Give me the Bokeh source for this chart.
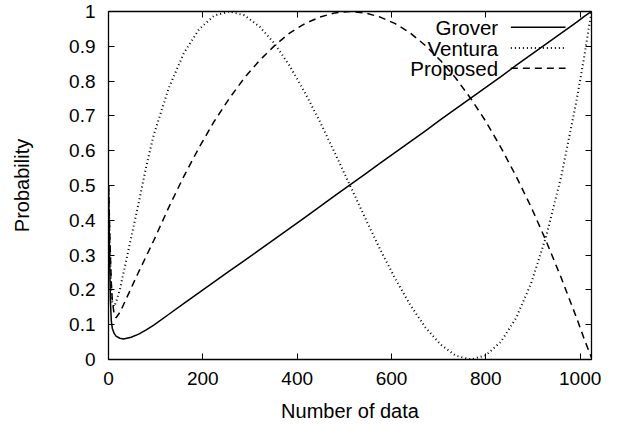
from bokeh.plotting import figure
from bokeh.models import (Range1d, FixedTicker, LinearAxis, PrintfTickFormatter,
                          Label, CustomJSTickFormatter)
from bokeh.embed import file_html
from bokeh.resources import INLINE

# ---- data ----
x_data = [0, 2, 4, 6, 8, 12, 16, 24, 32, 48, 64, 80, 96,
          128, 160, 192, 224, 256, 288, 320, 352, 384, 416, 448, 480,
          512, 544, 576, 608, 640, 672, 704, 736, 768, 800, 832, 864,
          896, 928, 960, 992, 1008, 1024]

grover = [0.5, 0.32, 0.17, 0.11, 0.09, 0.075, 0.067, 0.061, 0.059, 0.064, 0.073, 0.085, 0.099,
          0.13, 0.161, 0.192, 0.223, 0.254, 0.284, 0.315, 0.346, 0.377, 0.408, 0.439, 0.471,
          0.502, 0.533, 0.564, 0.595, 0.626, 0.657, 0.689, 0.72, 0.751, 0.782, 0.813, 0.845,
          0.876, 0.907, 0.938, 0.969, 0.985, 1.0]

ventura = [0.5, 0.38, 0.27, 0.2, 0.165, 0.152, 0.165, 0.2, 0.25, 0.35, 0.45, 0.555, 0.646,
           0.781, 0.881, 0.949, 0.988, 1.0, 0.989, 0.957, 0.908, 0.844, 0.768, 0.684, 0.593,
           0.5, 0.407, 0.316, 0.232, 0.156, 0.092, 0.043, 0.011, 0.0, 0.012, 0.051, 0.119,
           0.219, 0.354, 0.527, 0.742, 0.865, 1.0]

proposed = [0.5, 0.4, 0.3, 0.22, 0.17, 0.13, 0.12, 0.135, 0.158, 0.205, 0.252, 0.297, 0.342,
            0.438, 0.527, 0.609, 0.684, 0.75, 0.809, 0.859, 0.902, 0.938, 0.965, 0.984, 0.996,
            1.0, 0.996, 0.984, 0.965, 0.938, 0.902, 0.859, 0.809, 0.75, 0.684, 0.609, 0.527,
            0.438, 0.34, 0.234, 0.121, 0.061, 0.005]

series_names = ["Grover", "Ventura", "Proposed"]
x_ticks = [0, 200, 400, 600, 800, 1000]
y_ticks = [0, 0.1, 0.2, 0.3, 0.4, 0.5, 0.6, 0.7, 0.8, 0.9, 1.0]

# ---- styling ----
FONT = "Liberation Sans"
TICK_SIZE = "19px"
LABEL_SIZE = "20px"
dashes = ["solid", "1 3", "7 5"]
widths = [1.5, 2.0, 1.5]

p = figure(frame_width=483, frame_height=348,
           x_range=Range1d(0, 1024), y_range=Range1d(0, 1),
           output_backend="svg", toolbar_location=None,
           min_border_left=108, min_border_top=11, min_border_right=20,
           min_border_bottom=64,
           x_axis_label="Number of data", y_axis_label="Probability")

p.grid.visible = False
p.outline_line_color = "black"
p.outline_line_width = 1.3
p.background_fill_color = "white"
p.border_fill_color = "white"

for ax in p.xaxis:
    ax.ticker = FixedTicker(ticks=x_ticks)
    ax.major_label_standoff = 12
    ax.axis_label_standoff = 12
for ax in p.yaxis:
    ax.ticker = FixedTicker(ticks=y_ticks)
    ax.formatter = PrintfTickFormatter(format="%g")
    ax.major_label_standoff = 13
    ax.axis_label_standoff = 33

for ax in list(p.xaxis) + list(p.yaxis):
    ax.axis_line_color = None
    ax.major_tick_in = 6
    ax.major_tick_out = 0
    ax.major_tick_line_color = "black"
    ax.major_tick_line_width = 1
    ax.minor_tick_line_color = None
    ax.major_label_text_font = FONT
    ax.major_label_text_font_size = TICK_SIZE
    ax.major_label_text_color = "black"
    ax.axis_label_text_font = FONT
    ax.axis_label_text_font_size = LABEL_SIZE
    ax.axis_label_text_font_style = "normal"
    ax.axis_label_text_color = "black"

# mirrored ticks (gnuplot style)
blank = CustomJSTickFormatter(code="return ''")
right = LinearAxis(ticker=FixedTicker(ticks=y_ticks), formatter=blank,
                   axis_line_color=None, major_tick_in=6, major_tick_out=0,
                   minor_tick_line_color=None, major_label_standoff=0,
                   major_label_text_font_size="0px")
top = LinearAxis(ticker=FixedTicker(ticks=x_ticks), formatter=blank,
                 axis_line_color=None, major_tick_in=6, major_tick_out=0,
                 minor_tick_line_color=None, major_label_standoff=0,
                 major_label_text_font_size="0px")
p.add_layout(right, "right")
p.add_layout(top, "above")

# curves
for ys, dash, w in zip([grover, ventura, proposed], dashes, widths):
    p.line(x_data, ys, line_color="black", line_width=w, line_dash=dash)

# manual gnuplot-style legend (text left, sample right)
legend_text_x = 826
legend_line_x0 = 853
legend_line_x1 = 969
legend_rows_y = [0.955, 0.895, 0.837]
for name, dash, w, ly in zip(series_names, dashes, widths, legend_rows_y):
    p.add_layout(Label(x=legend_text_x, y=ly, text=name, text_align="right",
                       text_baseline="middle", text_font=FONT,
                       text_font_size="20.5px", text_color="black"))
    p.segment(x0=[legend_line_x0], y0=[ly], x1=[legend_line_x1], y1=[ly],
              line_color="black", line_width=w, line_dash=dash)

open("out.html", "w").write(file_html(p, INLINE))
